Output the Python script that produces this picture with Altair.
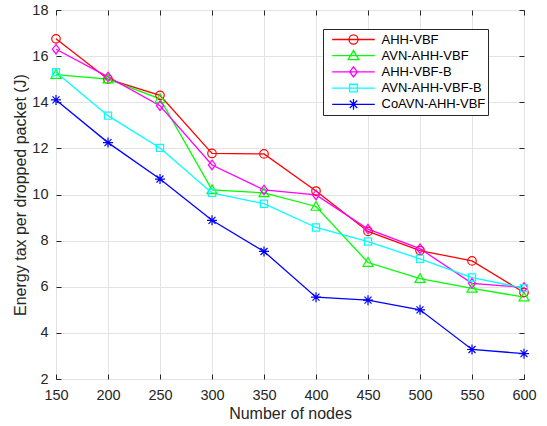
import altair as alt
import pandas as pd

# ---- data -------------------------------------------------------------
nodes = [150, 200, 250, 300, 350, 400, 450, 500, 550, 600]

series_names = ["AHH-VBF", "AVN-AHH-VBF", "AHH-VBF-B", "AVN-AHH-VBF-B", "CoAVN-AHH-VBF"]

ahh_vbf = [16.75, 15.0, 14.3, 11.78, 11.76, 10.15, 8.4, 7.57, 7.12, 5.75]
avn_ahh_vbf = [15.2, 15.0, 14.15, 10.2, 10.07, 9.48, 7.05, 6.35, 5.93, 5.55]
ahh_vbf_b = [16.3, 15.1, 13.85, 11.28, 10.2, 9.98, 8.5, 7.65, 6.15, 5.97]
avn_ahh_vbf_b = [15.3, 13.42, 12.02, 10.07, 9.6, 8.57, 7.96, 7.21, 6.4, 5.94]
coavn_ahh_vbf = [14.1, 12.25, 10.67, 8.88, 7.53, 5.55, 5.42, 5.0, 3.28, 3.1]

x_ticks = [150, 200, 250, 300, 350, 400, 450, 500, 550, 600]
y_ticks = [2, 4, 6, 8, 10, 12, 14, 16, 18]

series_values = [ahh_vbf, avn_ahh_vbf, ahh_vbf_b, avn_ahh_vbf_b, coavn_ahh_vbf]
series_colors = ["#ff0000", "#00ff00", "#ff00ff", "#00ffff", "#0000ff"]

rows = []
for name, vals in zip(series_names, series_values):
    for n, v in zip(nodes, vals):
        rows.append({"nodes": n, "value": v, "series": name})
df = pd.DataFrame(rows)

# ---- marker outlines (unit square -1..1) ------------------------------
def circle(r):
    return f"M{r},0A{r},{r} 0 1,1 {-r},0A{r},{r} 0 1,1 {r},0Z"

def triangle(s):
    return f"M0,{-s}L{s},{0.75 * s}L{-s},{0.75 * s}Z"

def diamond(s):
    return f"M0,{-0.95 * s}L{0.72 * s},0L0,{0.95 * s}L{-0.72 * s},0Z"

def square(s):
    return f"M{-0.72 * s},{-0.72 * s}H{0.72 * s}V{0.72 * s}H{-0.72 * s}Z"

def asterisk(s):
    d = 0.7 * s
    return (f"M0,{-s}V{s}M{-s},0H{s}"
            f"M{-d},{-d}L{d},{d}M{-d},{d}L{d},{-d}")

def markers(s):
    return [circle(0.85 * s), triangle(s), diamond(s), square(s), asterisk(s)]

point_shapes = markers(1.0)
# legend samples: a line segment through a smaller copy of each marker
legend_shapes = ["M-1,0H1" + p for p in markers(0.25)]

W, H = 468, 369
FONT = "Liberation Sans"
TXT = "#262626"

x_dom = alt.Scale(domain=[150, 600], nice=False, zero=False)
y_dom = alt.Scale(domain=[2, 18], nice=False, zero=False)
color_scale = alt.Scale(domain=series_names, range=series_colors)

base = alt.Chart(df)

tick_only = dict(labels=False, grid=False, domain=False, ticks=True, tickSize=5,
                 tickColor=TXT, tickWidth=1, title=None)

# lines, with the labelled axes and grid
lines = base.mark_line(strokeWidth=1.3).encode(
    x=alt.X("nodes:Q", scale=x_dom,
            axis=alt.Axis(orient="bottom", values=x_ticks, grid=True, ticks=False,
                          domain=False, labelFontSize=14.5, labelPadding=9,
                          labelFlush=False, labelOverlap=False,
                          title="Number of nodes", titleFontSize=16,
                          titlePadding=4, titleFontWeight="normal")),
    y=alt.Y("value:Q", scale=y_dom,
            axis=alt.Axis(orient="left", values=y_ticks, grid=True, ticks=False,
                          domain=False, labelFontSize=14.5, labelPadding=8,
                          labelFlush=False, labelOverlap=False,
                          title="Energy tax per dropped packet (J)",
                          titleFontSize=16, titlePadding=3,
                          titleFontWeight="normal")),
    color=alt.Color("series:N", scale=color_scale, legend=None),
)

# markers, with inward ticks along the bottom and left edges
points = base.mark_point(filled=False, size=100, strokeWidth=1.2, opacity=1).encode(
    x=alt.X("nodes:Q", scale=x_dom,
            axis=alt.Axis(orient="top", values=x_ticks, offset=-H, **tick_only)),
    y=alt.Y("value:Q", scale=y_dom,
            axis=alt.Axis(orient="right", values=y_ticks, offset=-W, **tick_only)),
    color=alt.Color("series:N", scale=color_scale, legend=None),
    shape=alt.Shape("series:N",
                    scale=alt.Scale(domain=series_names, range=point_shapes),
                    legend=None),
)

legend_props = dict(
    orient="none", legendX=267, legendY=19, direction="vertical", title=None,
    padding=2.5, strokeColor=TXT, fillColor="white", cornerRadius=0,
    symbolSize=1815, symbolStrokeWidth=1.3, symbolOffset=6, labelOffset=6,
    labelFont=FONT, labelFontSize=13, labelColor="#000000",
    clipHeight=16, rowPadding=0.2, labelLimit=200,
)

# legend entries (no marks drawn), plus inward ticks along top and right edges
legend_layer = base.mark_point(filled=False, strokeWidth=1.3, opacity=1).encode(
    x=alt.X("nodes:Q", scale=x_dom,
            axis=alt.Axis(orient="bottom", values=x_ticks, offset=-H, **tick_only)),
    y=alt.Y("value:Q", scale=y_dom,
            axis=alt.Axis(orient="left", values=y_ticks, offset=-W, **tick_only)),
    color=alt.Color("series:N", scale=color_scale, legend=alt.Legend(**legend_props)),
    shape=alt.Shape("series:N",
                    scale=alt.Scale(domain=series_names, range=legend_shapes),
                    legend=alt.Legend(**legend_props)),
).transform_filter("false")

chart = alt.layer(lines, points, legend_layer).resolve_scale(
    color="independent", shape="independent"
).resolve_axis(
    x="independent", y="independent"
).properties(
    width=W, height=H,
    autosize=alt.AutoSizeParams(type="none"),
    padding={"left": 56, "top": 10, "right": 23, "bottom": 47},
).configure(
    background="white",
    font=FONT,
).configure_view(
    stroke=TXT, strokeWidth=1,
).configure_axis(
    labelColor=TXT, titleColor=TXT, labelFont=FONT, titleFont=FONT,
    gridColor="#e3e3e3", gridWidth=1,
)

chart.save("out.html", embed_options={"renderer": "svg", "actions": False})
